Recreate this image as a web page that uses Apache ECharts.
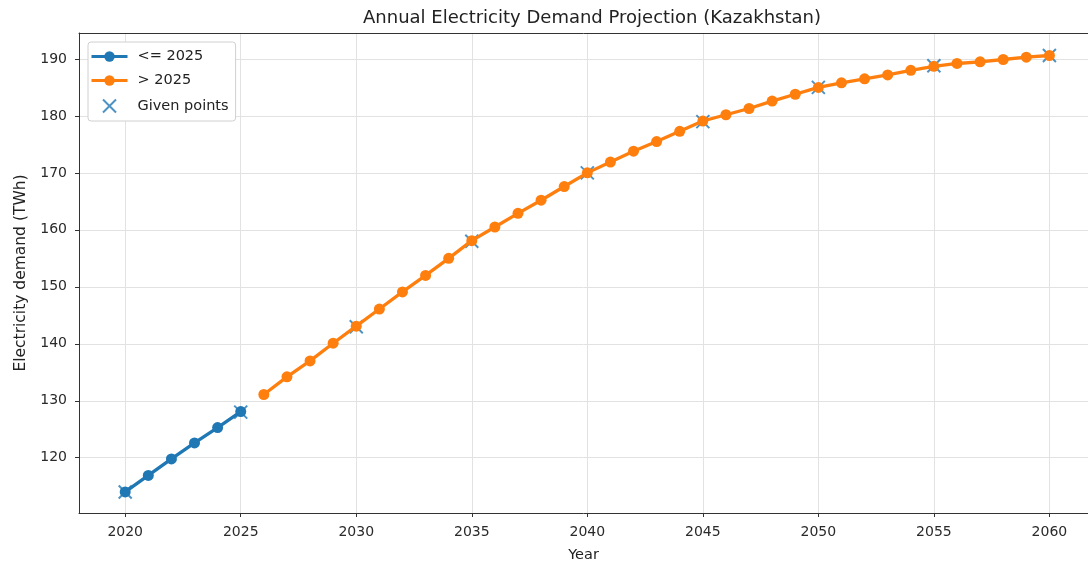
<!DOCTYPE html>
<html style="height: 100%">
<head>
	<meta charset="utf-8">
</head>
<body style="height: 100%; margin: 0; background-color: #fff;">
<div id="container" style="width: 1088px; height: 568px"></div>
<script type="text/javascript" src="https://cdn.jsdelivr.net/npm/echarts@6/dist/echarts.min.js"></script>
<script type="text/javascript">
	// years and demand (TWh)
	var yearsPast = [2020, 2021, 2022, 2023, 2024, 2025];
	var demandPast = [114.0, 116.9, 119.8, 122.6, 125.3, 128.1];
	var yearsFuture = [2026, 2027, 2028, 2029, 2030, 2031, 2032, 2033, 2034, 2035,
		2036, 2037, 2038, 2039, 2040, 2041, 2042, 2043, 2044, 2045,
		2046, 2047, 2048, 2049, 2050, 2051, 2052, 2053, 2054, 2055,
		2056, 2057, 2058, 2059, 2060];
	var demandFuture = [131.1, 134.2, 137.0, 140.1, 143.1, 146.1, 149.1, 152.0, 155.0, 158.1,
		160.5, 162.9, 165.2, 167.6, 170.0, 171.9, 173.8, 175.5, 177.3, 179.1,
		180.2, 181.3, 182.6, 183.8, 185.0, 185.8, 186.5, 187.2, 188.0, 188.7,
		189.2, 189.5, 189.9, 190.3, 190.6];
	var givenYears = [2020, 2025, 2030, 2035, 2040, 2045, 2050, 2055, 2060];
	var givenDemand = [114, 128, 143, 158, 170, 179, 185, 188.8, 190.6];
	var xTicks = [2020, 2025, 2030, 2035, 2040, 2045, 2050, 2055, 2060];
	var yTicks = [120, 130, 140, 150, 160, 170, 180, 190];

	function pairs(xs, ys) {
		return xs.map(function(x, i) { return [x, ys[i]]; });
	}

	var font = 'DejaVu Sans';
	var dom = document.getElementById("container");
	var myChart = echarts.init(dom);

	var option = {
		animation: false,
		title: {
			text: 'Annual Electricity Demand Projection (Kazakhstan)',
			left: 587,
			textAlign: 'center',
			top: 4,
			textStyle: { fontFamily: font, fontSize: 18, fontWeight: 'normal', color: '#222' }
		},
		legend: {
			orient: 'vertical',
			left: 88,
			top: 42,
			padding: [7, 7, 6, 2],
			itemGap: 9,
			itemWidth: 36,
			itemHeight: 13,
			backgroundColor: '#fff',
			borderColor: '#d0d0d0',
			borderWidth: 1,
			borderRadius: 3,
			lineStyle: { width: 3 },
			textStyle: { fontFamily: font, fontSize: 14.5, color: '#222', padding: [0, 0, 0, 5] },
			data: ['<= 2025', '> 2025', 'Given points']
		},
		grid: {
			left: 79,
			right: 0,
			top: 33,
			bottom: 54,
			show: false
		},
		xAxis: [{
			type: 'value',
			min: 2018,
			max: 2061.67,
			name: 'Year',
			nameLocation: 'middle',
			nameGap: 35,
			nameTextStyle: { fontFamily: font, fontSize: 14.5, color: '#222' },
			axisLine: { show: true, lineStyle: { color: '#333', width: 1 } },
			axisTick: { show: true, length: 4, customValues: xTicks, lineStyle: { color: '#333' } },
			axisLabel: {
				customValues: xTicks, fontFamily: font, fontSize: 14, color: '#2a2a2a', margin: 12,
				formatter: function(v) { return String(v); }
			},
			splitLine: { show: true, lineStyle: { color: '#e2e2e2', width: 1 } }
		}, {
			// top spine only
			type: 'value',
			position: 'top',
			min: 2018,
			max: 2061.67,
			axisLine: { show: true, lineStyle: { color: '#333', width: 1 } },
			axisTick: { show: false },
			axisLabel: { show: false },
			splitLine: { show: false }
		}],
		yAxis: {
			type: 'value',
			min: 110.3,
			max: 194.55,
			name: 'Electricity demand (TWh)',
			nameLocation: 'middle',
			nameGap: 47,
			nameTextStyle: { fontFamily: font, fontSize: 15.5, color: '#222' },
			axisLine: { show: true, lineStyle: { color: '#333', width: 1 } },
			axisTick: { show: true, length: 4, customValues: yTicks, lineStyle: { color: '#333' } },
			axisLabel: { customValues: yTicks, fontFamily: font, fontSize: 14, color: '#2a2a2a', margin: 12 },
			splitLine: { show: true, lineStyle: { color: '#e2e2e2', width: 1 } }
		},
		series: [{
			name: 'Given points',
			type: 'scatter',
			z: 1,
			symbol: 'path://M0,0L10,10M10,0L0,10',
			symbolSize: 13,
			itemStyle: { color: 'none', borderColor: '#1f77b4', borderWidth: 2 },
			data: pairs(givenYears, givenDemand)
		}, {
			name: '<= 2025',
			type: 'line',
			z: 3,
			symbol: 'circle',
			symbolSize: 11,
			lineStyle: { color: '#1f77b4', width: 3.3 },
			itemStyle: { color: '#1f77b4' },
			data: pairs(yearsPast, demandPast)
		}, {
			name: '> 2025',
			type: 'line',
			z: 3,
			symbol: 'circle',
			symbolSize: 11,
			lineStyle: { color: '#ff7f0e', width: 3.3 },
			itemStyle: { color: '#ff7f0e' },
			data: pairs(yearsFuture, demandFuture)
		}]
	};
	myChart.setOption(option);
</script>
</body>
</html>
